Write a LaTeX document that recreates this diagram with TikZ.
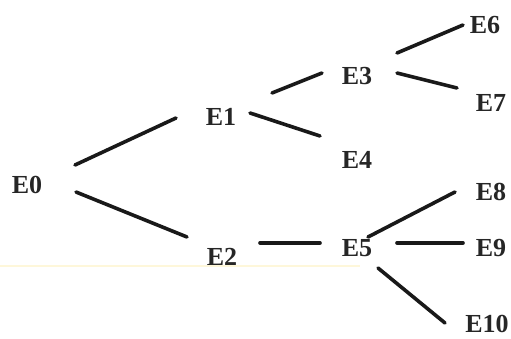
\documentclass[tikz,border=0pt]{standalone}
\usepackage{fontspec}
\setmainfont{Liberation Serif}
\begin{document}
\begin{tikzpicture}[x=1pt,y=-1pt,
  lbl/.style={inner sep=0pt, font=\fontsize{26}{26}\selectfont\bfseries, text=black!85},
  edge/.style={line width=3.6pt, line cap=round, black!90}]
\useasboundingbox (0,0) rectangle (511,339);
\draw[yellow!60!orange, opacity=0.15, line width=2pt] (0,265.5) -- (360,265.5);
\node[lbl] (E0) at (27,185) {E0};
\node[lbl] (E1) at (221,117) {E1};
\node[lbl] (E2) at (222,257) {E2};
\node[lbl] (E3) at (357,76) {E3};
\node[lbl] (E4) at (357,160) {E4};
\node[lbl] (E5) at (357,248) {E5};
\node[lbl] (E6) at (485,25) {E6};
\node[lbl] (E7) at (491,103) {E7};
\node[lbl] (E8) at (491,192) {E8};
\node[lbl] (E9) at (491,248) {E9};
\node[lbl] (E10) at (487,324) {E10};
\draw[edge] ([shift={(48,-20)}]E0.center) -- ([shift={(-45,1)}]E1.center);
\draw[edge] ([shift={(49,7)}]E0.center) -- ([shift={(-35,-20)}]E2.center);
\draw[edge] ([shift={(51,-24)}]E1.center) -- ([shift={(-35,-3)}]E3.center);
\draw[edge] ([shift={(29,-4)}]E1.center) -- ([shift={(-37,-24)}]E4.center);
\draw[edge] ([shift={(40,-23)}]E3.center) -- ([shift={(-22,0)}]E6.center);
\draw[edge] ([shift={(40,-3)}]E3.center) -- ([shift={(-34,-15)}]E7.center);
\draw[edge] ([shift={(38,-14)}]E2.center) -- ([shift={(-37,-5)}]E5.center);
\draw[edge] ([shift={(11,-11)}]E5.center) -- ([shift={(-36,0)}]E8.center);
\draw[edge] ([shift={(40,-5)}]E5.center) -- ([shift={(-28,-5)}]E9.center);
\draw[edge] ([shift={(21,20)}]E5.center) -- ([shift={(-42,-1)}]E10.center);
\end{tikzpicture}
\end{document}
